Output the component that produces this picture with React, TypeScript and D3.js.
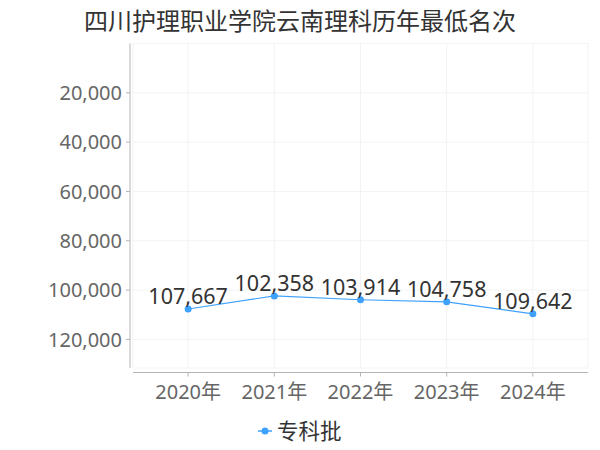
import { useEffect } from 'react'
import * as d3 from 'd3'

const title = '四川护理职业学院云南理科历年最低名次'
const years = ['2020年', '2021年', '2022年', '2023年', '2024年']
const ranks = [107667, 102358, 103914, 104758, 109642]
const seriesName = '专科批'
const yTicks = [20000, 40000, 60000, 80000, 100000, 120000]
const yMax = 131600

const width = 600
const height = 450
const plot = { left: 133, right: 588, top: 43.5, bottom: 368 }
const lineColor = '#3fa1fe'
const gridColor = '#f3f3f3'
const axisColor = '#b4b4b4'
const font = '"Noto Sans", "Noto Sans CJK SC", sans-serif'
const cjkFont = '"Noto Sans CJK SC", sans-serif'

export default function App() {
  useEffect(() => {
    document.body.style.margin = '0'
  }, [])

  const x = d3.scalePoint<string>()
    .domain(years)
    .range([plot.left, plot.right])
    .padding(0.64)

  // ranks: smaller is better, so the axis runs downward
  const y = d3.scaleLinear()
    .domain([0, yMax])
    .range([plot.top, plot.bottom])

  const fmt = d3.format(',')
  const points = years.map((yr, i) => ({ yr, v: ranks[i] }))

  const line = d3.line<{ yr: string; v: number }>()
    .x(d => x(d.yr) as number)
    .y(d => y(d.v))

  const vGrid = [plot.left, ...years.map(yr => x(yr) as number), plot.right]
  const hGrid = [plot.top, ...yTicks.map(t => y(t)), plot.bottom]

  return (
    <svg width={width} height={height} style={{ display: 'block', background: '#fff' }}>
      <text x={300} y={30} textAnchor="middle" fontSize={24}
        fontFamily={cjkFont} fill="#333">{title}</text>

      <g stroke={gridColor} strokeWidth={1}>
        {vGrid.map((gx, i) => (
          <line key={'v' + i} x1={gx} x2={gx} y1={plot.top} y2={plot.bottom} />
        ))}
        {hGrid.map((gy, i) => (
          <line key={'h' + i} x1={plot.left} x2={plot.right} y1={gy} y2={gy} />
        ))}
      </g>

      {/* y axis */}
      <line x1={130} x2={130} y1={plot.top} y2={plot.bottom} stroke={axisColor} />
      {yTicks.map(t => (
        <g key={t}>
          <line x1={126} x2={130} y1={y(t)} y2={y(t)} stroke={axisColor} />
          <text x={122} y={y(t)} dy="0.36em" textAnchor="end" fontSize={20}
            fontFamily={font} fill="#666">{fmt(t)}</text>
        </g>
      ))}

      {/* x axis */}
      <line x1={plot.left} x2={plot.right} y1={372.5} y2={372.5} stroke={axisColor} />
      {years.map(yr => (
        <g key={yr}>
          <line x1={x(yr)} x2={x(yr)} y1={372.5} y2={376.5} stroke={axisColor} />
          <text x={x(yr)} y={399} textAnchor="middle" fontSize={20}
            fontFamily={font} fill="#666">{yr}</text>
        </g>
      ))}

      <path d={line(points) ?? ''} fill="none" stroke={lineColor} strokeWidth={1.2} />
      {points.map(p => (
        <g key={p.yr}>
          <circle cx={x(p.yr)} cy={y(p.v)} r={3.5} fill={lineColor} />
          <text x={x(p.yr)} y={y(p.v) - 4.5} textAnchor="middle" fontSize={21.5}
            fontFamily={font} fill="#333">{fmt(p.v)}</text>
        </g>
      ))}

      {/* legend */}
      <line x1={258} x2={272} y1={431} y2={431} stroke={lineColor} strokeWidth={1.5} />
      <circle cx={265} cy={431} r={3.5} fill={lineColor} />
      <text x={277} y={431} dy="0.36em" fontSize={21.5}
        fontFamily={cjkFont} fill="#333">{seriesName}</text>
    </svg>
  )
}
